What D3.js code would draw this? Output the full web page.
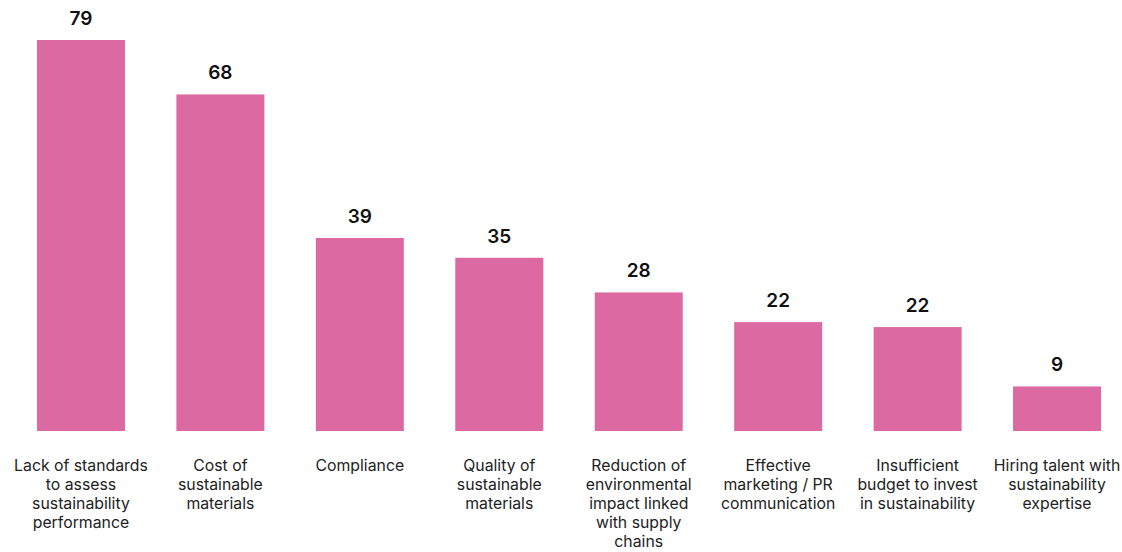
<!DOCTYPE html>
<html lang="en">
<head>
<meta charset="UTF-8">
<title>Sustainability challenges</title>
<script src="https://d3js.org/d3.v7.min.js"></script>
<style>
    body {
        margin: 0;
        background: #fff;
    }
    .valueLabel {
        font-family: Inter, "Noto Sans", sans-serif;
        font-size: 19px;
        font-weight: 600;
        fill: #111;
        text-anchor: middle;
    }
    .catLabel {
        font-family: Inter, "Noto Sans", sans-serif;
        font-size: 15.8px;
        fill: #222;
        text-anchor: middle;
    }
</style>
</head>
<body>
<script>
    const width = 1122;
    const height = 552;

    // data
    const categories = [
        "Lack of standards\nto assess\nsustainability\nperformance",
        "Cost of\nsustainable\nmaterials",
        "Compliance",
        "Quality of\nsustainable\nmaterials",
        "Reduction of\nenvironmental\nimpact linked\nwith supply\nchains",
        "Effective\nmarketing / PR\ncommunication",
        "Insufficient\nbudget to invest\nin sustainability",
        "Hiring talent with\nsustainability\nexpertise"
    ];
    const values = [79, 68, 39, 35, 28, 22, 21, 9];
    const shownLabels = ["79", "68", "39", "35", "28", "22", "22", "9"];

    const svg = d3.select("body").append("svg")
        .attr("width", width)
        .attr("height", height);

    const x = d3.scaleBand()
        .domain(d3.range(categories.length))
        .range([0, 1138])
        .paddingInner(0.369)
        .paddingOuter(0.265);

    const baseY = 431;
    const y = d3.scaleLinear()
        .domain([0, 79])
        .range([baseY, 40]);

    svg.selectAll("rect.bar")
        .data(values)
        .join("rect")
        .attr("class", "bar")
        .attr("x", (d, i) => x(i))
        .attr("y", d => y(d))
        .attr("width", x.bandwidth())
        .attr("height", d => baseY - y(d))
        .attr("fill", "#dc69a2");

    svg.selectAll("text.valueLabel")
        .data(values)
        .join("text")
        .attr("class", "valueLabel")
        .attr("x", (d, i) => x(i) + x.bandwidth() / 2)
        .attr("y", d => y(d) - 15)
        .text((d, i) => shownLabels[i]);

    // category labels, one tspan per line
    categories.forEach((cat, i) => {
        const t = svg.append("text")
            .attr("class", "catLabel")
            .attr("x", x(i) + x.bandwidth() / 2)
            .attr("y", 471);
        cat.split("\n").forEach((line, j) => {
            t.append("tspan")
                .attr("x", x(i) + x.bandwidth() / 2)
                .attr("dy", j === 0 ? 0 : 19)
                .text(line);
        });
    });
</script>
</body>
</html>
